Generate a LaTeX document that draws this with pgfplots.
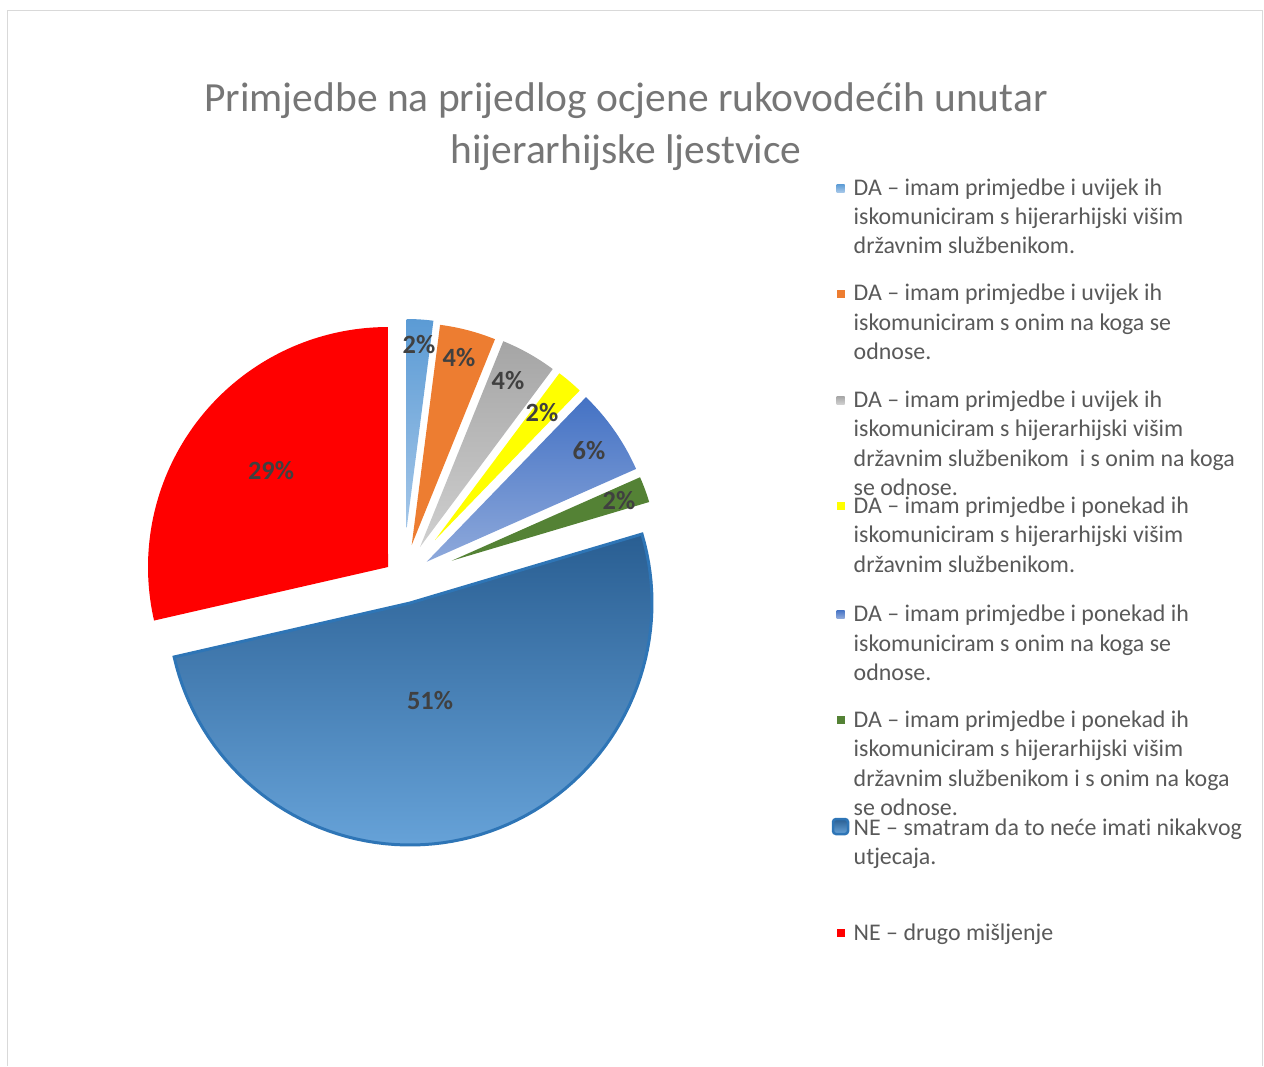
\documentclass[border=0pt]{standalone}
\usepackage{fontspec}
\setmainfont{Carlito}[Ligatures=NoCommon]
\usepackage{pgfplots}
\pgfplotsset{compat=1.18}
\definecolor{cLB}{HTML}{5B9BD5}
\definecolor{cLBl}{HTML}{A4C6E8}
\definecolor{cOr}{HTML}{ED7D31}
\definecolor{cGr}{HTML}{A5A5A5}
\definecolor{cGrl}{HTML}{CFCFCF}
\definecolor{cYe}{HTML}{FFFF00}
\definecolor{cB6}{HTML}{4472C4}
\definecolor{cB6l}{HTML}{8EA9DB}
\definecolor{cGn}{HTML}{548235}
\definecolor{cNE1}{HTML}{295E92}
\definecolor{cNE2}{HTML}{66A2D8}
\definecolor{cBord}{HTML}{2E75B6}
\definecolor{cRed}{HTML}{FF0000}
\definecolor{lblc}{HTML}{404040}
\definecolor{legtxt}{HTML}{595959}
\definecolor{ttl}{HTML}{767676}
\definecolor{frm}{HTML}{D9D9D9}
% #1 share (%), #2 cumulative share before it (%), #3,#4 vertex (px), #5 radius (px), #6 style
\newcommand{\slice}[6]{%
  \addplot[#6, domain=-1:81, samples=83]
   ({#3+ifthenelse(x<-0.5||x>80.5,0,#5*cos(90-3.6*(#2+#1)+x*0.045*#1))},
    {#4-ifthenelse(x<-0.5||x>80.5,0,#5*sin(90-3.6*(#2+#1)+x*0.045*#1))});
}
\newcommand{\legl}[2]{\node[anchor=base west,inner sep=0pt,font=\fontsize{6.8}{8}\selectfont,text=legtxt] at (axis cs:853,#1) {#2};}
\newcommand{\dlab}[3]{\node[font=\fontsize{7.5}{9}\selectfont\bfseries,text=lblc,inner sep=0pt] at (axis cs:#1,#2) {#3};}
\begin{document}
\begin{tikzpicture}
\begin{axis}[x=0.1mm,y=0.1mm,xmin=0,xmax=1264,ymin=0,ymax=1066,y dir=reverse,
  hide axis,scale only axis,clip=false]
\path (axis cs:0,0) rectangle (axis cs:1264,1066);
\draw[frm,line width=0.1mm] (axis cs:7,1066) -- (axis cs:7,10) -- (axis cs:1262,10) -- (axis cs:1262,1066);
% slices: share, cumulative before
\slice{28.57}{71.42}{388}{567}{240}{draw=none,fill=cRed}
\slice{51.02}{20.40}{410}{603}{242}{draw=cBord,line width=0.3mm,top color=cNE1,bottom color=cNE2}
\slice{2.04}{0}{406.7}{528}{209}{draw=none,top color=cLB,bottom color=cLBl}
\slice{4.08}{2.04}{411.7}{545}{222}{draw=none,fill=cOr}
\slice{4.08}{6.12}{420}{547}{222}{draw=none,top color=cGr,bottom color=cGrl}
\slice{2.04}{10.20}{435}{540}{208}{draw=none,fill=cYe}
\slice{6.12}{12.24}{426.7}{561.7}{229}{draw=none,top color=cB6,bottom color=cB6l}
\slice{2.04}{18.36}{451.7}{560.7}{206}{draw=none,fill=cGn}
% data labels
\dlab{419}{345}{2\%}
\dlab{459}{358}{4\%}
\dlab{508}{381}{4\%}
\dlab{542}{413}{2\%}
\dlab{589}{451}{6\%}
\dlab{619}{501}{2\%}
\dlab{430}{701}{51\%}
\dlab{271}{471}{29\%}
% title
\node[anchor=base,inner sep=0pt,font=\fontsize{11.8}{14}\selectfont,text=ttl] at (axis cs:626,111) {Primjedbe na prijedlog ocjene rukovodećih unutar};
\node[anchor=base,inner sep=0pt,font=\fontsize{11.8}{14}\selectfont,text=ttl] at (axis cs:626,163) {hijerarhijske ljestvice};
% legend
\node[inner sep=0pt,minimum size=0.8mm,top color=cLB,bottom color=cLBl] at (axis cs:840.5,188) {};
\node[inner sep=0pt,minimum size=0.8mm,fill=cOr] at (axis cs:840.5,294) {};
\node[inner sep=0pt,minimum size=0.8mm,top color=cGr,bottom color=cGrl] at (axis cs:840.5,400) {};
\node[inner sep=0pt,minimum size=0.8mm,fill=cYe] at (axis cs:840.5,506) {};
\node[inner sep=0pt,minimum size=0.8mm,top color=cB6,bottom color=cB6l] at (axis cs:840.5,614) {};
\node[inner sep=0pt,minimum size=0.8mm,fill=cGn] at (axis cs:840.5,720) {};
\node[inner sep=0pt,minimum size=1.5mm,draw=cBord,line width=0.25mm,rounded corners=0.3mm,top color=cNE1,bottom color=cNE2] at (axis cs:840.5,826.5) {};
\node[inner sep=0pt,minimum size=0.8mm,fill=cRed] at (axis cs:840.5,933) {};
\legl{195}{DA – imam primjedbe i uvijek ih}
\legl{224.3}{iskomuniciram s hijerarhijski višim}
\legl{253.6}{državnim službenikom.}
\legl{300.7}{DA – imam primjedbe i uvijek ih}
\legl{330}{iskomuniciram s onim na koga se}
\legl{359.3}{odnose.}
\legl{407.3}{DA – imam primjedbe i uvijek ih}
\legl{436.6}{iskomuniciram s hijerarhijski višim}
\legl{466}{državnim službenikom\ \ i s onim na koga}
\legl{495.3}{se odnose.}
\legl{513.3}{DA – imam primjedbe i ponekad ih}
\legl{542.6}{iskomuniciram s hijerarhijski višim}
\legl{572}{državnim službenikom.}
\legl{621.7}{DA – imam primjedbe i ponekad ih}
\legl{651}{iskomuniciram s onim na koga se}
\legl{680.3}{odnose.}
\legl{727.3}{DA – imam primjedbe i ponekad ih}
\legl{756.6}{iskomuniciram s hijerarhijski višim}
\legl{786}{državnim službenikom i s onim na koga}
\legl{815.3}{se odnose.}
\legl{835}{NE – smatram da to neće imati nikakvog}
\legl{864.3}{utjecaja.}
\legl{940}{NE – drugo mišljenje}
\end{axis}
\end{tikzpicture}
\end{document}
